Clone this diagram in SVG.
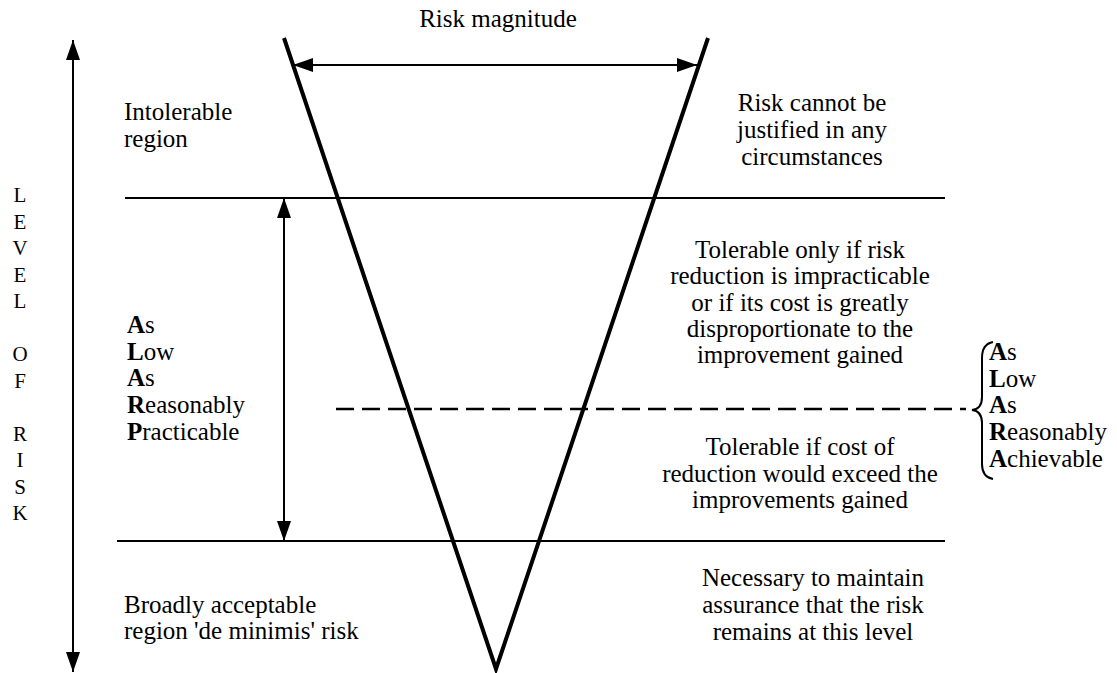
<svg xmlns="http://www.w3.org/2000/svg" width="1117" height="673" viewBox="0 0 1117 673">
  <style>
    text { font-family: "Liberation Serif", "Times New Roman", serif; fill: #000; }
    .t { font-size: 25px; }
    .mid { text-anchor: middle; }
    .axis { font-size: 21px; text-anchor: middle; }
    .line { stroke: #000; stroke-width: 2; fill: none; }
    .vee { stroke: #000; stroke-width: 4; fill: none; stroke-linejoin: miter; }
    .dash { stroke: #000; stroke-width: 2.5; fill: none; stroke-dasharray: 18 8; }
    .b { font-weight: bold; }
  </style>
  <defs>
    <marker id="ah" viewBox="0 0 20 14" refX="20" refY="7" markerWidth="20" markerHeight="14" markerUnits="userSpaceOnUse" orient="auto-start-reverse">
      <path d="M0,0 L20,7 L0,14 Z" fill="#000"/>
    </marker>
  </defs>

  <!-- connectors: axes, region boundaries and the risk cone -->
  <g id="connectors">
    <line id="level-axis" class="line" x1="73" y1="40" x2="73" y2="672" marker-start="url(#ah)" marker-end="url(#ah)"/>
    <line id="magnitude-arrow" class="line" x1="293" y1="65" x2="697" y2="65" marker-start="url(#ah)" marker-end="url(#ah)"/>
    <line id="upper-boundary" class="line" x1="125" y1="198" x2="945" y2="198"/>
    <line id="lower-boundary" class="line" x1="117" y1="541" x2="945" y2="541"/>
    <line id="alarp-arrow" class="line" x1="284" y1="198" x2="284" y2="541" marker-start="url(#ah)" marker-end="url(#ah)"/>
    <line id="alara-divider" class="dash" x1="336" y1="409" x2="966" y2="409"/>
    <polyline id="risk-cone" class="vee" points="284,38 496,669 708,38"/>
    <path id="alara-brace" class="line" d="M993,342 Q982,344 982,358 L982,397 Q982,409 972,410 Q982,411 982,423 L982,464 Q982,477 993,479"/>
  </g>

  <g id="axis-label">
    <text class="axis" x="20" y="202">L</text>
    <text class="axis" x="20" y="228.5">E</text>
    <text class="axis" x="20" y="255">V</text>
    <text class="axis" x="20" y="281.5">E</text>
    <text class="axis" x="20" y="308">L</text>
    <text class="axis" x="20" y="361">O</text>
    <text class="axis" x="20" y="387.5">F</text>
    <text class="axis" x="20" y="440.5">R</text>
    <text class="axis" x="20" y="467">I</text>
    <text class="axis" x="20" y="493.5">S</text>
    <text class="axis" x="20" y="520">K</text>
  </g>

  <g id="risk-magnitude">
    <text class="t mid" x="498" y="27">Risk magnitude</text>
  </g>

  <g id="intolerable">
    <text class="t" x="124" y="120">Intolerable</text>
    <text class="t" x="124" y="147">region</text>
  </g>

  <g id="intolerable-note">
    <text class="t mid" x="812" y="111">Risk cannot be</text>
    <text class="t mid" x="812" y="138">justified in any</text>
    <text class="t mid" x="812" y="165">circumstances</text>
  </g>

  <g id="alarp">
    <text class="t" x="127" y="333"><tspan class="b">A</tspan>s</text>
    <text class="t" x="127" y="360"><tspan class="b">L</tspan>ow</text>
    <text class="t" x="127" y="386"><tspan class="b">A</tspan>s</text>
    <text class="t" x="127" y="413"><tspan class="b">R</tspan>easonably</text>
    <text class="t" x="127" y="440"><tspan class="b">P</tspan>racticable</text>
  </g>

  <g id="tolerable-upper">
    <text class="t mid" x="800" y="258">Tolerable only if risk</text>
    <text class="t mid" x="800" y="284">reduction is impracticable</text>
    <text class="t mid" x="800" y="311">or if its cost is greatly</text>
    <text class="t mid" x="800" y="337">disproportionate to the</text>
    <text class="t mid" x="800" y="363">improvement gained</text>
  </g>

  <g id="alara">
    <text class="t" x="989" y="360"><tspan class="b">A</tspan>s</text>
    <text class="t" x="989" y="387"><tspan class="b">L</tspan>ow</text>
    <text class="t" x="989" y="413"><tspan class="b">A</tspan>s</text>
    <text class="t" x="989" y="440"><tspan class="b">R</tspan>easonably</text>
    <text class="t" x="989" y="467"><tspan class="b">A</tspan>chievable</text>
  </g>

  <g id="tolerable-lower">
    <text class="t mid" x="800" y="455">Tolerable if cost of</text>
    <text class="t mid" x="800" y="482">reduction would exceed the</text>
    <text class="t mid" x="800" y="508">improvements gained</text>
  </g>

  <g id="broadly-acceptable">
    <text class="t" x="124" y="613">Broadly acceptable</text>
    <text class="t" x="124" y="639">region 'de minimis' risk</text>
  </g>

  <g id="broadly-acceptable-note">
    <text class="t mid" x="813" y="586">Necessary to maintain</text>
    <text class="t mid" x="813" y="613">assurance that the risk</text>
    <text class="t mid" x="813" y="640">remains at this level</text>
  </g>
</svg>
